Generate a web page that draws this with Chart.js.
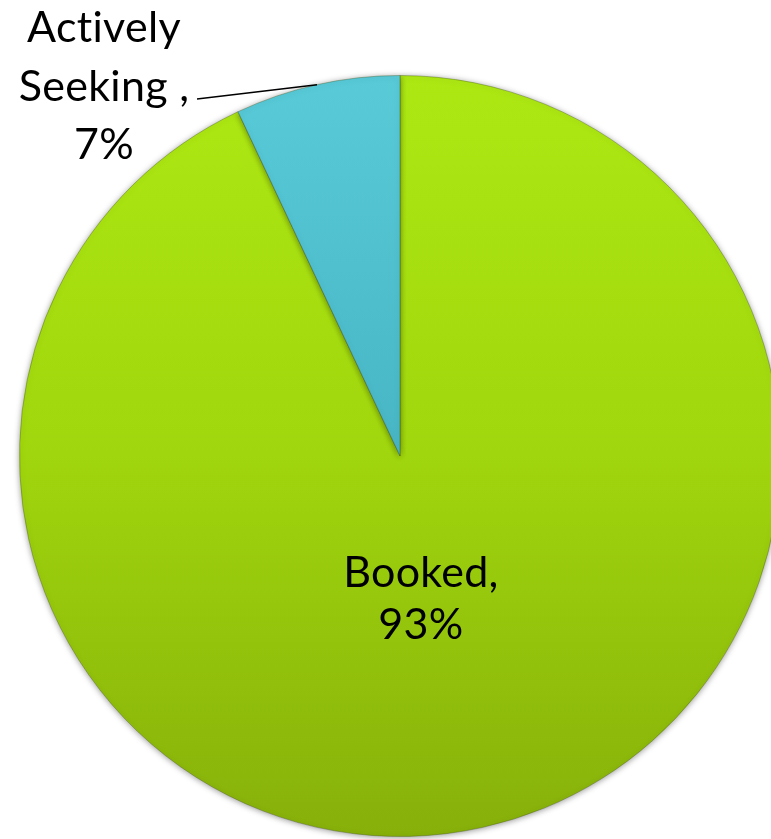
<!DOCTYPE html>
<html>
<head>
<meta charset="utf-8">
<script src="https://cdn.jsdelivr.net/npm/chart.js@4/dist/chart.umd.min.js"></script>
<style>
  html, body { margin: 0; padding: 0; background: #ffffff; overflow: hidden; }
  #wrap { width: 800px; height: 839px; }
</style>
</head>
<body>
<div id="wrap"><canvas id="pieChart" width="800" height="839"></canvas></div>
<script>
// Slice data (clockwise from 12 o'clock)
const categories = ['Booked', 'Actively Seeking '];
const shares = [93, 7];
const labelLines = [['Booked,', '93%'], ['Actively', 'Seeking ,', '7%']];

// Colour stops per slice: top -> bottom of the pie
const sliceColors = [
    ['#ade813', '#a0d60d', '#87b00a'],
    ['#58cad8', '#48b6c4', '#3a97a6']
];

function sliceFill(context) {
    const chart = context.chart;
    const area = chart.chartArea;
    const stops = sliceColors[context.dataIndex];
    if (!area) return stops[1];
    const g = chart.ctx.createLinearGradient(0, area.top, 0, area.bottom);
    g.addColorStop(0, stops[0]);
    g.addColorStop(0.5, stops[1]);
    g.addColorStop(1, stops[2]);
    return g;
}

// soft shadow around the slices
const shadowPlugin = {
    id: 'sliceShadow',
    beforeDatasetsDraw(chart) {
        const c = chart.ctx;
        c.save();
        c.shadowColor = 'rgba(0, 0, 0, 0.4)';
        c.shadowBlur = 6;
        c.shadowOffsetY = 1;
    },
    afterDatasetsDraw(chart) {
        chart.ctx.restore();
    }
};

// data labels: Booked inside, Actively Seeking outside with a leader line
const labelPlugin = {
    id: 'sliceLabels',
    afterDraw(chart) {
        const c = chart.ctx;
        const arcs = chart.getDatasetMeta(0).data;
        c.save();
        c.fillStyle = '#000000';
        c.textAlign = 'center';
        c.textBaseline = 'alphabetic';
        c.font = '43px Lato, "Open Sans", sans-serif';
        c.letterSpacing = '0.3px'; // also stops the "ti" ligature

        // Booked, 93%
        const a0 = arcs[0];
        const r = a0.outerRadius;
        const bx = a0.x + 0.055 * r;
        const by = a0.y + 0.345 * r;
        labelLines[0].forEach((t, i) => c.fillText(t, bx, by + i * 52));

        // Actively Seeking , 7%
        const a1 = arcs[1];
        const mid = (a1.startAngle + a1.endAngle) / 2;
        const ex = a1.x + Math.cos(mid) * a1.outerRadius;
        const ey = a1.y + Math.sin(mid) * a1.outerRadius;
        const lx = 104;
        const ly = 42;
        labelLines[1].forEach((t, i) => c.fillText(t, lx, ly + i * 58.5));
        c.strokeStyle = '#000000';
        c.lineWidth = 1.5;
        c.beginPath();
        c.moveTo(197, 99);
        c.lineTo(ex, ey);
        c.stroke();
        c.restore();
    }
};

new Chart(document.getElementById('pieChart').getContext('2d'), {
    type: 'pie',
    data: {
        labels: categories,
        datasets: [{
            data: shares,
            backgroundColor: sliceFill,
            borderColor: 'rgba(60, 80, 20, 0.35)',
            borderWidth: 1,
            offset: 0,
            hoverOffset: 0
        }]
    },
    options: {
        responsive: false,
        animation: false,
        layout: { padding: { left: 19, right: 19, top: 75, bottom: 2 } },
        plugins: {
            legend: { display: false },
            tooltip: { enabled: false }
        }
    },
    plugins: [shadowPlugin, labelPlugin]
});
</script>
</body>
</html>
